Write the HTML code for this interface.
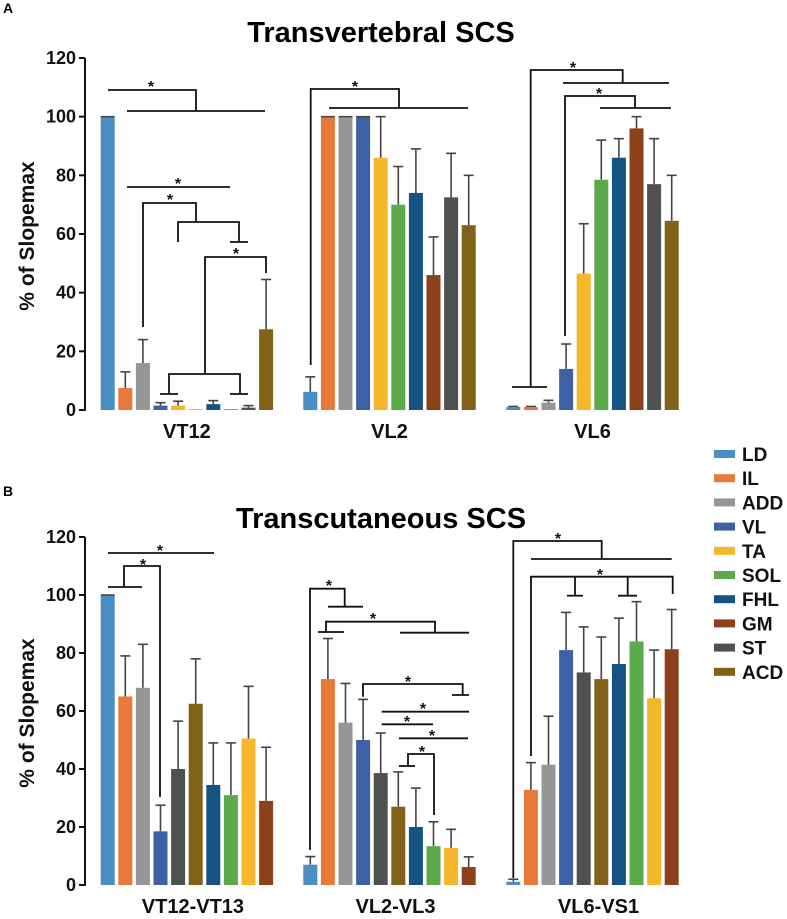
<!DOCTYPE html>
<html><head><meta charset="utf-8"><style>
html,body{margin:0;padding:0;background:#fff;}
svg{display:block;font-family:"Liberation Sans",Arial,sans-serif;}
</style></head><body>
<svg id="c" width="787" height="919" viewBox="0 0 787 919">
<text x="3" y="13" font-size="14" font-weight="bold">A</text>
<text x="3" y="496" font-size="14" font-weight="bold">B</text>
<text x="381" y="42" font-size="29" font-weight="bold" text-anchor="middle">Transvertebral SCS</text>
<text x="381" y="528" font-size="29" font-weight="bold" text-anchor="middle">Transcutaneous SCS</text>
<g id="legend"></g>
<g id="plots"></g>
</svg>
<script>
const muscles=["LD","IL","ADD","VL","TA","SOL","FHL","GM","ST","ACD"];
const colors={LD:"#4a8ec6",IL:"#e8793a",ADD:"#959796",VL:"#3c62a3",TA:"#f5b72b",SOL:"#5daa4c",FHL:"#155482",GM:"#8b411a",ST:"#4f5150",ACD:"#806218"};
const yTicks=[0,20,40,60,80,100,120];
// Panel A
const aGroups=["VT12","VL2","VL6"];
const aOrder=["LD","IL","ADD","VL","TA","SOL","FHL","GM","ST","ACD"];
const aVT12=[100,7.5,16,1.5,1.5,0.2,2,0.2,0.8,27.5];
const aVT12err=[100,13,24,2.5,3,0.2,3.2,0.2,1.5,44.5];
const aVL2=[6.2,100,100,100,86,70,74,46,72.5,63];
const aVL2err=[11.3,100,100,100,100,83,89,59,87.5,80];
const aVL6=[1,1,2.5,14,46.5,78.5,86,96,77,64.5];
const aVL6err=[1.2,1.2,3.3,22.5,63.5,92,92.5,100,92.5,80];
// Panel B
const bGroups=["VT12-VT13","VL2-VL3","VL6-VS1"];
const bOrder=["LD","IL","ADD","VL","ST","ACD","FHL","SOL","TA","GM"];
const bVT12=[100,65,68,18.5,40,62.5,34.5,31,50.5,29];
const bVT12err=[100,79,83,27.5,56.5,78,49,49,68.5,47.5];
const bVL2=[7,71,56,50,38.6,27,20,13.4,12.8,6.2];
const bVL2err=[9.8,85,69.5,64,52.4,39,33.4,21.8,19.2,9.7];
const bVL6=[1.1,32.8,41.5,81,73.3,71,76.2,84,64.4,81.3];
const bVL6err=[2,42.2,58.2,94,89,85.5,92,97.7,81,95];

const NS="http://www.w3.org/2000/svg";
const svg=document.getElementById('c');
function mk(tag,attrs,parent){const e=document.createElementNS(NS,tag);for(const k in attrs)e.setAttribute(k,attrs[k]);(parent||svg).appendChild(e);return e;}

const groupStarts=[100.7,303.3,506.3];
const step=17.6, bw=14;
function drawPanel(pid,y0,y120,groups,order,vals,errs,labelY){
  const yS=v=>y0-(y0-y120)*v/120;
  const g=mk('g',{});
  
  
  // axis
  const ax=mk('line',{x1:85,x2:85,y1:y120,y2:y0+1,stroke:'#111','stroke-width':2},g);
  
  
  yTicks.forEach(t=>{
    const y=yS(t);
    mk('line',{x1:79,x2:85,y1:y,y2:y,stroke:'#111','stroke-width':2},g);
    const tl=mk('text',{x:76,y:y+6,'font-size':18,'font-weight':'bold','text-anchor':'end',fill:'#111'},g);
    tl.textContent=t;
    
    
  });
  const yt=mk('text',{x:0,y:0,'font-size':21,'font-weight':'bold','text-anchor':'middle',fill:'#111',transform:`translate(34,${(y0+y120)/2+2}) rotate(-90)`},g);
  yt.textContent='% of Slopemax';
  
  
  groups.forEach((gn,gi)=>{
    vals[gi].forEach((v,i)=>{
      const x=groupStarts[gi]+i*step;
      const m=order[i];
      const e=errs[gi][i];
      if(e>v){
        const el=mk('line',{x1:x+bw/2,x2:x+bw/2,y1:yS(v),y2:yS(e),stroke:'#444','stroke-width':1.6},g);
        
        
        mk('line',{x1:x+bw/2-5,x2:x+bw/2+5,y1:yS(e),y2:yS(e),stroke:'#444','stroke-width':1.6},g);
      }
      const r=mk('rect',{x:x,y:yS(v),width:bw,height:Math.max(0.6,yS(0)-yS(v)),fill:colors[m]},g);
      
      
      if(v>=99.9){mk('line',{x1:x,x2:x+bw,y1:yS(v),y2:yS(v),stroke:'#444','stroke-width':1.5},g);}
    });
    const lab=mk('text',{x:groupStarts[gi]+4.5*step+bw/2+(pid==='panel-a'?0:6),y:labelY,'font-size':20,'font-weight':'bold','text-anchor':'middle',fill:'#111'},g);
    lab.textContent=gn;
    
    
  });
}
drawPanel('panel-a',410,58,aGroups,aOrder,[aVT12,aVL2,aVL6],[aVT12err,aVL2err,aVL6err],438);
drawPanel('panel-b',885,537,bGroups,bOrder,[bVT12,bVL2,bVL6],[bVT12err,bVL2err,bVL6err],913);

// significance annotations (pixel polylines)
const sigLines=[
 [[108,90],[196,90],[196,111]],[[127,111],[265,111]],
 [[127,187],[230,187]],
 [[143,327],[143,203],[196,203],[196,222]],[[178,242],[178,222],[239,222],[239,242]],[[230,242],[248,242]],
 [[205,374],[205,257],[266,257],[266,273]],
 [[169,394],[169,374],[240,374],[240,394]],[[160,394],[178,394]],[[230,394],[248,394]],
 [[310.7,365],[310.7,89],[399,89],[399,108]],[[329,108],[468,108]],
 [[530.7,387],[530.7,70],[622.7,70],[622.7,83]],[[563,83],[669,83]],[[512,387],[547,387]],
 [[565,336],[565,96],[635,96],[635,108]],[[600,108],[671,108]],
 [[108,553],[214,553]],
 [[108,587],[142,587]],[[124,587],[124,566],[160,566],[160,797]],
 [[310,850],[310,588.7],[344.7,588.7],[344.7,606.7]],[[328,606.7],[363,606.7]],
 [[326,632],[326,621.7],[435,621.7],[435,632.7]],[[318,632],[344,632]],[[400,632.7],[469,632.7]],
 [[363,696.7],[363,684],[462.7,684],[462.7,695]],[[452,695],[469,695]],
 [[381.7,711.7],[469,711.7]],[[381.7,724.3],[433,724.3]],[[399,738.3],[468,738.3]],
 [[399,766],[415,766]],[[408,766],[408,754],[434,754],[434,815]],
 [[513.3,878],[513.3,541],[601.7,541],[601.7,559]],[[531,559],[671.7,559]],
 [[531,756],[531,576.7],[672.7,576.7],[672.7,594]],[[575,576.7],[575,595.7]],[[567,595.7],[583,595.7]],
 [[627.7,576.7],[627.7,595.7]],[[618,595.7],[637,595.7]]
];
const stars=[[151,88],[178,185],[170,201],[236,255],[355,88],[573,69],[599,95],[160,552],[143,566],[329,587],[373,620],[408,683],[423,710],[407,723],[432,737],[422,753],[558,540],[600,576]];
const ann=mk('g',{});


sigLines.forEach(p=>{
  const pl=mk('polyline',{points:p.map(q=>q.join(',')).join(' '),fill:'none',stroke:'#111','stroke-width':1.8},ann);
  
  
});
stars.forEach(s=>{
  const t=mk('text',{x:s[0],y:s[1]+4,'font-size':16,'font-weight':'bold','text-anchor':'middle',fill:'#111'},ann);
  t.textContent='*';
  
  
});

// legend
const lg=document.getElementById('legend');
muscles.forEach((m,i)=>{
  const y=454+i*24.2;
  const r=mk('rect',{x:714,y:y-4,width:21,height:8,fill:colors[m]},lg);
  
  
  const t=mk('text',{x:742,y:y+7,'font-size':19,'font-weight':'bold',fill:'#111'},lg);
  t.textContent=m;
  
  
});
</script>
</body></html>
